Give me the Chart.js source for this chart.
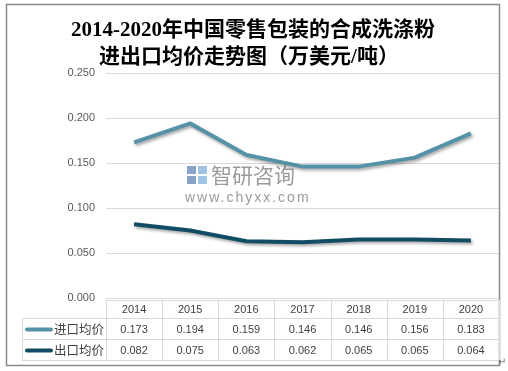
<!DOCTYPE html>
<html lang="zh">
<head>
  <meta charset="UTF-8">
  <title>2014-2020年中国零售包装的合成洗涤粉进出口均价走势图</title>
  <script src="https://cdn.jsdelivr.net/npm/chart.js"></script>
  <style>
    html, body { margin: 0; padding: 0; background: #fff; }
    #wrap { width: 508px; height: 371px; }
  </style>
</head>
<body>
  <div id="wrap"><canvas id="grafica" width="508" height="371"></canvas></div>

  <script>
    // datos
    const years = ['2014', '2015', '2016', '2017', '2018', '2019', '2020'];
    const importPrice = [0.173, 0.194, 0.159, 0.146, 0.146, 0.156, 0.183];
    const exportPrice = [0.082, 0.075, 0.063, 0.062, 0.065, 0.065, 0.064];
    const seriesNames = ['进口均价', '出口均价'];
    const titleLines = ['2014-2020年中国零售包装的合成洗涤粉', '进出口均价走势图（万美元/吨）'];
    const yTicks = [0, 0.05, 0.1, 0.15, 0.2, 0.25];

    const colors = ['#5592a8', '#114c64'];
    const cjk = '"Noto Sans CJK SC", sans-serif';
    const serif = '"Liberation Serif", "Noto Sans CJK SC", serif';
    const num = '"Liberation Sans", Arial, sans-serif';

    // título, marco, marca de agua y tabla de datos
    const extras = {
      id: 'extras',
      beforeDatasetsDraw(chart) {
        const ctx = chart.ctx;
        ctx.save();
        // marca de agua
        ctx.fillStyle = '#8aa3c9';
        ctx.fillRect(187, 166, 9, 8);
        ctx.fillStyle = '#9fc4e6';
        ctx.fillRect(198, 166, 9, 8);
        ctx.fillStyle = '#8aa3c9';
        ctx.fillRect(187, 176, 9, 8);
        ctx.fillStyle = '#9fc4e6';
        ctx.fillRect(198, 176, 9, 8);
        ctx.fillStyle = 'rgba(120,120,120,0.75)';
        ctx.font = '21px ' + cjk;
        ctx.textBaseline = 'middle';
        ctx.textAlign = 'left';
        ctx.fillText('智研咨询', 211, 175);
        ctx.font = '14px ' + num;
        ctx.letterSpacing = '2px';
        ctx.fillText('www.chyxx.com', 185, 198);
        ctx.restore();
      },
      beforeDatasetDraw(chart) {
        const ctx = chart.ctx;
        ctx.save();
        ctx.shadowColor = 'rgba(0,0,0,0.35)';
        ctx.shadowOffsetX = 1.5;
        ctx.shadowOffsetY = 2;
        ctx.shadowBlur = 3;
      },
      afterDatasetDraw(chart) {
        chart.ctx.restore();
      },
      afterDraw(chart) {
        const ctx = chart.ctx;
        const x = chart.scales.x;
        const bottom = chart.chartArea.bottom;
        ctx.save();

        // marco exterior
        ctx.strokeStyle = '#8a8a8a';
        ctx.lineWidth = 1.5;
        ctx.strokeRect(6.5, 4.5, 493, 361);

        // título
        ctx.fillStyle = '#000';
        ctx.textAlign = 'center';
        ctx.textBaseline = 'middle';
        ctx.font = 'bold 21px ' + serif;
        ctx.fillText(titleLines[0], 253, 31);
        ctx.fillText(titleLines[1], 249, 58);

        // tabla
        const colW = (x.right - x.left) / years.length;
        const rowTop = [bottom + 2, bottom + 20, bottom + 41];
        const rowBot = bottom + 62;
        const legendLeft = 22;
        ctx.strokeStyle = '#d9d9d9';
        ctx.lineWidth = 1;
        ctx.beginPath();
        ctx.moveTo(x.left, rowTop[0] + 0.5);
        ctx.lineTo(x.right, rowTop[0] + 0.5);
        for (let r = 1; r < 3; r++) {
          ctx.moveTo(legendLeft, rowTop[r] + 0.5);
          ctx.lineTo(x.right, rowTop[r] + 0.5);
        }
        ctx.moveTo(legendLeft, rowBot + 0.5);
        ctx.lineTo(x.right, rowBot + 0.5);
        for (let i = 0; i <= years.length; i++) {
          const cx = Math.round(x.left + i * colW) + 0.5;
          ctx.moveTo(cx, rowTop[0]);
          ctx.lineTo(cx, rowBot);
        }
        ctx.moveTo(legendLeft + 0.5, rowTop[1]);
        ctx.lineTo(legendLeft + 0.5, rowBot);
        ctx.stroke();

        ctx.fillStyle = '#404040';
        ctx.font = '11px ' + num;
        years.forEach((yr, i) => {
          const cx = x.getPixelForValue(i);
          ctx.fillText(yr, cx, (rowTop[0] + rowTop[1]) / 2 + 1);
        });
        const rows = [importPrice, exportPrice];
        rows.forEach((vals, r) => {
          const cy = (rowTop[r + 1] + (r === 0 ? rowTop[2] : rowBot)) / 2 + 1;
          vals.forEach((v, i) => {
            ctx.fillText(v.toFixed(3), x.getPixelForValue(i), cy);
          });
          // leyenda
          ctx.strokeStyle = colors[r];
          ctx.lineWidth = 4;
          ctx.lineCap = 'round';
          ctx.beginPath();
          ctx.moveTo(27, cy);
          ctx.lineTo(51, cy);
          ctx.stroke();
          ctx.textAlign = 'left';
          ctx.font = '12.5px ' + cjk;
          ctx.fillText(seriesNames[r], 54, cy);
          ctx.textAlign = 'center';
          ctx.font = '11px ' + num;
        });

        ctx.fillStyle = '#666';
        ctx.font = '10px ' + num;
        ctx.fillText('↵', 502, 362);
        ctx.restore();
      }
    };

    const ctx = document.getElementById('grafica').getContext('2d');
    new Chart(ctx, {
      type: 'line',
      data: {
        labels: years,
        datasets: [{
          label: seriesNames[0],
          data: importPrice,
          borderColor: colors[0],
          borderWidth: 4,
          pointRadius: 0,
          tension: 0,
          fill: false
        }, {
          label: seriesNames[1],
          data: exportPrice,
          borderColor: colors[1],
          borderWidth: 4,
          pointRadius: 0,
          tension: 0,
          fill: false
        }]
      },
      options: {
        responsive: false,
        animation: false,
        layout: { padding: { left: 0, right: 9, top: 73, bottom: 73 } },
        plugins: {
          legend: { display: false },
          title: { display: false },
          tooltip: { enabled: false }
        },
        scales: {
          x: {
            display: false,
            offset: true
          },
          y: {
            min: 0,
            max: 0.25,
            afterFit(scale) { scale.width = 106; },
            afterBuildTicks(scale) { scale.ticks = yTicks.map(v => ({ value: v })); },
            border: { display: false },
            grid: { color: '#d9d9d9', drawTicks: false },
            ticks: {
              padding: 11,
              color: '#595959',
              font: { family: num, size: 11 },
              callback: v => v.toFixed(3)
            }
          }
        }
      },
      plugins: [extras]
    });
  </script>
</body>
</html>
